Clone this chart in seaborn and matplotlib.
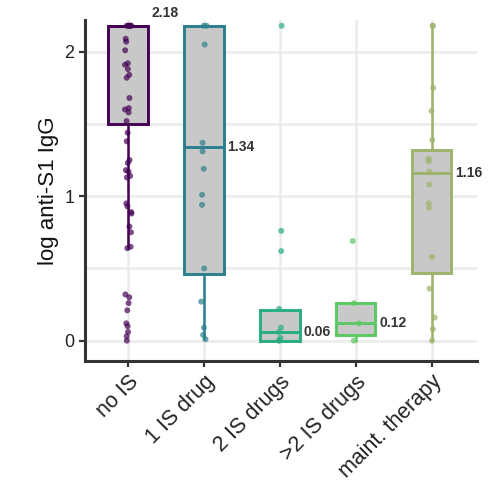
# Boxplot log anti-S1 IgG por grupo de inmunosupresion

import numpy as np
import matplotlib.pyplot as plt
import seaborn as sns
import pandas as pd

##########################################

grupos = ['no IS', '1 IS drug', '2 IS drugs', '>2 IS drugs', 'maint. therapy']
colores = ['#440154', '#2A7F8E', '#27AD81', '#5DC863', '#9DB36B']

# Puntos (los repetidos en 2.18 se solapan)
no_is = [2.18]*6 + [2.09, 2.07, 2.01, 1.92, 1.91, 1.88, 1.84, 1.82, 1.68, 1.61,
                    1.60, 1.58, 1.52, 1.44, 1.38, 1.25, 1.23, 1.18, 1.17, 1.14,
                    1.13, 0.95, 0.93, 0.89, 0.88, 0.79, 0.75, 0.65, 0.64, 0.32,
                    0.30, 0.26, 0.21, 0.12, 0.10, 0.06, 0.03, 0.0]
un_is = [2.18, 2.18, 2.05, 1.37, 1.31, 1.19, 1.01, 0.94, 0.50, 0.27, 0.09, 0.04, 0.01]
dos_is = [2.18, 0.76, 0.62, 0.22, 0.09, 0.06, 0.02, 0.0, 0.0]
mas_dos_is = [0.69, 0.26, 0.12, 0.0]
mantenimiento = [2.18, 2.18, 1.75, 1.59, 1.39, 1.26, 1.24, 1.17, 1.08, 0.95,
                 0.92, 0.58, 0.36, 0.16, 0.08, 0.0]

# Estadisticos de las cajas
q1 = [1.50, 0.46, 0.00, 0.04, 0.47]
medianas = [2.18, 1.34, 0.06, 0.12, 1.16]
q3 = [2.18, 2.18, 0.21, 0.26, 1.32]
bigote_inf = [0.64, 0.01, 0.00, 0.00, 0.00]
bigote_sup = [2.18, 2.18, 0.21, 0.26, 2.18]

##########################################

valores = [no_is, un_is, dos_is, mas_dos_is, mantenimiento]
df = pd.DataFrame({
    'grupo': np.concatenate([[g]*len(v) for g, v in zip(grupos, valores)]),
    'valor': np.concatenate(valores),
})

sns.set_theme(style='white')
plt.rcParams['font.family'] = ['Liberation Sans', 'DejaVu Sans']

fig = plt.figure(figsize=(4.97, 4.87), dpi=100)
ax = fig.add_axes([0.171, 0.259, 0.789, 0.700])

# Cajas
stats = []
for i in range(len(grupos)):
    stats.append({'med': medianas[i], 'q1': q1[i], 'q3': q3[i],
                  'whislo': bigote_inf[i], 'whishi': bigote_sup[i], 'fliers': []})
cajas = ax.bxp(stats, positions=range(len(grupos)), widths=0.52, showcaps=False,
               showfliers=False, patch_artist=True, manage_ticks=False,
               boxprops=dict(facecolor='#C8C8C8', linewidth=2.1),
               whiskerprops=dict(linewidth=1.8),
               medianprops=dict(linewidth=2.1))
for i, c in enumerate(colores):
    cajas['boxes'][i].set_edgecolor(c)
    cajas['boxes'][i].set_zorder(2)
    cajas['medians'][i].set_color(c)
    cajas['medians'][i].set_zorder(4)
    cajas['whiskers'][2*i].set_color(c)
    cajas['whiskers'][2*i+1].set_color(c)

# Puntos
np.random.seed(3)
sns.stripplot(data=df, x='grupo', y='valor', hue='grupo', order=grupos,
              hue_order=grupos, palette=colores, jitter=0.045, size=4.3,
              alpha=0.7, linewidth=0, legend=False, ax=ax, zorder=3)

# Etiquetas de mediana
for i, m in enumerate(medianas):
    y = m + 0.09 if m >= bigote_sup[i] else m
    ax.text(i + 0.31, y, f'{m:.2f}', ha='left', va='center', fontsize=10,
            fontweight='bold', color='#333333', clip_on=False)

ax.set_xlim(-0.57, 4.6)
ax.set_ylim(-0.14, 2.22)
ax.set_yticks([0, 1, 2])
ax.set_yticks([0.5, 1.5], minor=True)
ax.grid(True, which='both', color='#EBEBEB', linewidth=1.8, zorder=0)
ax.set_axisbelow(True)
ax.tick_params(axis='y', which='minor', length=0)
ax.tick_params(axis='both', which='major', length=4, width=1.6, color='#333333',
               direction='out', bottom=True, left=True)
ax.tick_params(axis='y', labelsize=13, labelcolor='#222222')
ax.set_xticks(range(len(grupos)))
ax.set_xticklabels(grupos, rotation=45, ha='right', rotation_mode='anchor',
                   fontsize=15.5, color='#222222')

for lado in ['top', 'right']:
    ax.spines[lado].set_visible(False)
for lado in ['left', 'bottom']:
    ax.spines[lado].set_color('#333333')
    ax.spines[lado].set_linewidth(2.2)

ax.set_xlabel('')
ax.set_ylabel('log anti-S1 IgG', fontsize=16, color='#111111')

plt.savefig('out.png', dpi=100)
